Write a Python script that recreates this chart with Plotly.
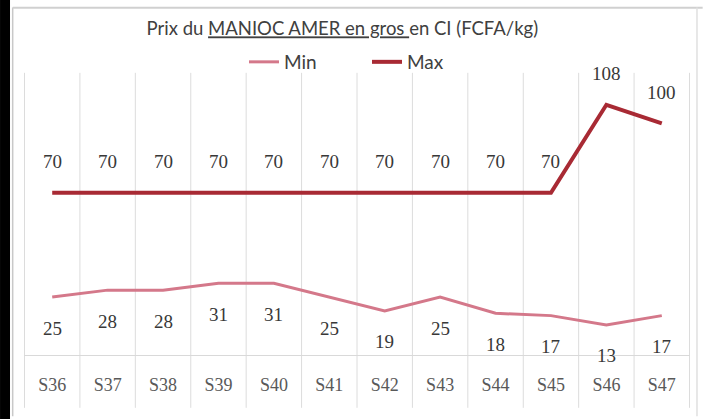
import plotly.graph_objects as go

# Weekly wholesale price of bitter cassava (FCFA/kg)
semaines = ["S36", "S37", "S38", "S39", "S40", "S41", "S42", "S43", "S44", "S45", "S46", "S47"]
prix_min = [25, 28, 28, 31, 31, 25, 19, 25, 18, 17, 13, 17]
prix_max = [70, 70, 70, 70, 70, 70, 70, 70, 70, 70, 108, 100]

col_min, col_max = "#d4788a", "#a82a34"
lbl_font = dict(family="Liberation Serif", size=19, color="#383838")

fig = go.Figure([
    go.Scatter(x=semaines, y=prix_min, name="Min", mode="lines",
               line=dict(color=col_min, width=3)),
    go.Scatter(x=semaines, y=prix_max, name="Max", mode="lines",
               line=dict(color=col_max, width=4)),
])

# data labels: max above the line, min below
for s, v in zip(semaines, prix_max):
    fig.add_annotation(x=s, y=v, text=str(v), showarrow=False, yshift=31, font=lbl_font)
for s, v in zip(semaines, prix_min):
    fig.add_annotation(x=s, y=v, text=str(v), showarrow=False, yshift=-31, font=lbl_font)

# category separators, running down through the tick labels (Excel style)
for i in range(len(semaines) + 1):
    fig.add_shape(type="line", xref="x", yref="paper", x0=i - 0.5, x1=i - 0.5,
                  y0=-0.19, y1=1.015, line=dict(color="#dcdcdc", width=1), layer="below")

# frame of the scanned picture
fig.add_shape(type="rect", xref="paper", yref="paper", x0=-0.036, x1=-0.021, y0=-0.23, y1=1.28,
              fillcolor="black", line_width=0)
fig.add_shape(type="line", xref="paper", yref="paper", x0=-0.017, x1=-0.017, y0=-0.22, y1=1.25,
              line=dict(color="#c8c8c8", width=1.5))
fig.add_shape(type="line", xref="paper", yref="paper", x0=-0.017, x1=1.019, y0=1.249, y1=1.249,
              line=dict(color="#d0d0d0", width=2))
fig.add_shape(type="line", xref="paper", yref="paper", x0=1.0105, x1=1.0105, y0=-0.22, y1=1.25,
              line=dict(color="#e0e0e0", width=1.5))

fig.update_layout(
    width=703, height=419,
    margin=dict(l=24, r=13, t=77, b=64),
    paper_bgcolor="white", plot_bgcolor="white",
    title=dict(text='Prix du <span style="text-decoration:underline">MANIOC AMER en gros </span>en CI (FCFA/kg)',
               x=0.487, xref="container", xanchor="center", y=0.931, yanchor="middle",
               font=dict(family="Lato", size=18.5, color="#404040")),
    legend=dict(orientation="h", x=0.515, xanchor="center", y=1.054, yanchor="middle",
                font=dict(family="Lato", size=19, color="#404040"), bgcolor="rgba(0,0,0,0)",
                entrywidth=78),
    showlegend=True,
)
fig.update_xaxes(showgrid=False, showline=True, linecolor="#d9d9d9", linewidth=1,
                 ticks="", tickfont=dict(family="Liberation Serif", size=18, color="#595959"),
                 ticklabelstandoff=13)
fig.update_yaxes(range=[0, 120], showgrid=False, showticklabels=False, zeroline=False)

# drop the default 8px page margin so the chart sits at the window's corner
fig.write_html("out.html", config={"displayModeBar": False},
               post_script="document.body.style.margin='0';")
